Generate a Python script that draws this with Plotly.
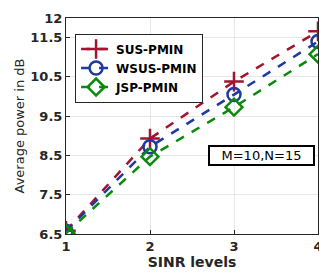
import plotly.graph_objects as go

sinr = [1, 2, 3, 4]
sus = [6.58, 8.93, 10.38, 11.66]
wsus = [6.57, 8.72, 10.05, 11.40]
jsp = [6.52, 8.47, 9.73, 11.08]
ytickvals = [6.5, 7.5, 8.5, 9.5, 10.5, 11.5, 12]
yticktext = ["6.5", "7.5", "8.5", "9.5", "10.5", "11.5", "12"]

FONT = "DejaVu Sans"
RED, BLUE, GREEN = "#A2142F", "#1F3A9E", "#0A8A0A"

fig = go.Figure()
fig.add_trace(go.Scatter(x=sinr, y=sus, name="<b>SUS-PMIN</b>", mode="lines+markers",
                         line=dict(color=RED, width=2.5, dash="dash"),
                         marker=dict(symbol="cross-thin-open", size=14, line=dict(color=RED, width=2.5))))
fig.add_trace(go.Scatter(x=sinr, y=wsus, name="<b>WSUS-PMIN</b>", mode="lines+markers",
                         line=dict(color=BLUE, width=2.5, dash="dash"),
                         marker=dict(symbol="circle-open", size=13, line=dict(color=BLUE, width=2.5))))
fig.add_trace(go.Scatter(x=sinr, y=jsp, name="<b>JSP-PMIN</b>", mode="lines+markers",
                         line=dict(color=GREEN, width=2.5, dash="dash"),
                         marker=dict(symbol="diamond-open", size=13, line=dict(color=GREEN, width=2.5))))

fig.add_annotation(x=0.988, y=0.363, xref="paper", yref="paper", xanchor="right", yanchor="middle",
                   text="M=10,N=15", showarrow=False,
                   font=dict(family=FONT, size=13, color="black"),
                   bordercolor="black", borderwidth=2, borderpad=1, bgcolor="white", width=101)

fig.update_layout(
    width=319, height=265,
    margin=dict(l=58, r=9, t=3, b=39),
    paper_bgcolor="white", plot_bgcolor="white",
    font=dict(family=FONT, size=13, color="#262626"),
    showlegend=True,
    legend=dict(x=0.036, y=0.928, xanchor="left", yanchor="top",
                bgcolor="white", bordercolor="#262626", borderwidth=1,
                font=dict(size=12, color="black", family=FONT),
                itemwidth=30, tracegroupgap=0),
    xaxis=dict(range=[1, 4], tickvals=sinr, ticktext=["<b>%d</b>" % v for v in sinr],
               showgrid=True, gridcolor="#E6E6E6", gridwidth=1,
               showline=True, linecolor="#262626", linewidth=1, mirror=True,
               ticks="inside", ticklen=4, tickcolor="#262626", zeroline=False,
               ticklabeloverflow="allow",
               title=dict(text="<b>SINR levels</b>", font=dict(size=14), standoff=2),
               tickfont=dict(size=13)),
    yaxis=dict(range=[6.5, 12], tickvals=ytickvals, ticktext=["<b>%s</b>" % t for t in yticktext],
               showgrid=True, gridcolor="#E6E6E6", gridwidth=1,
               showline=True, linecolor="#262626", linewidth=1, mirror=True,
               ticks="inside", ticklen=4, tickcolor="#262626", zeroline=False,
               ticklabeloverflow="allow",
               title=dict(text="Average power in dB", font=dict(size=13), standoff=2),
               tickfont=dict(size=13)),
)

fig.write_html("out.html")
